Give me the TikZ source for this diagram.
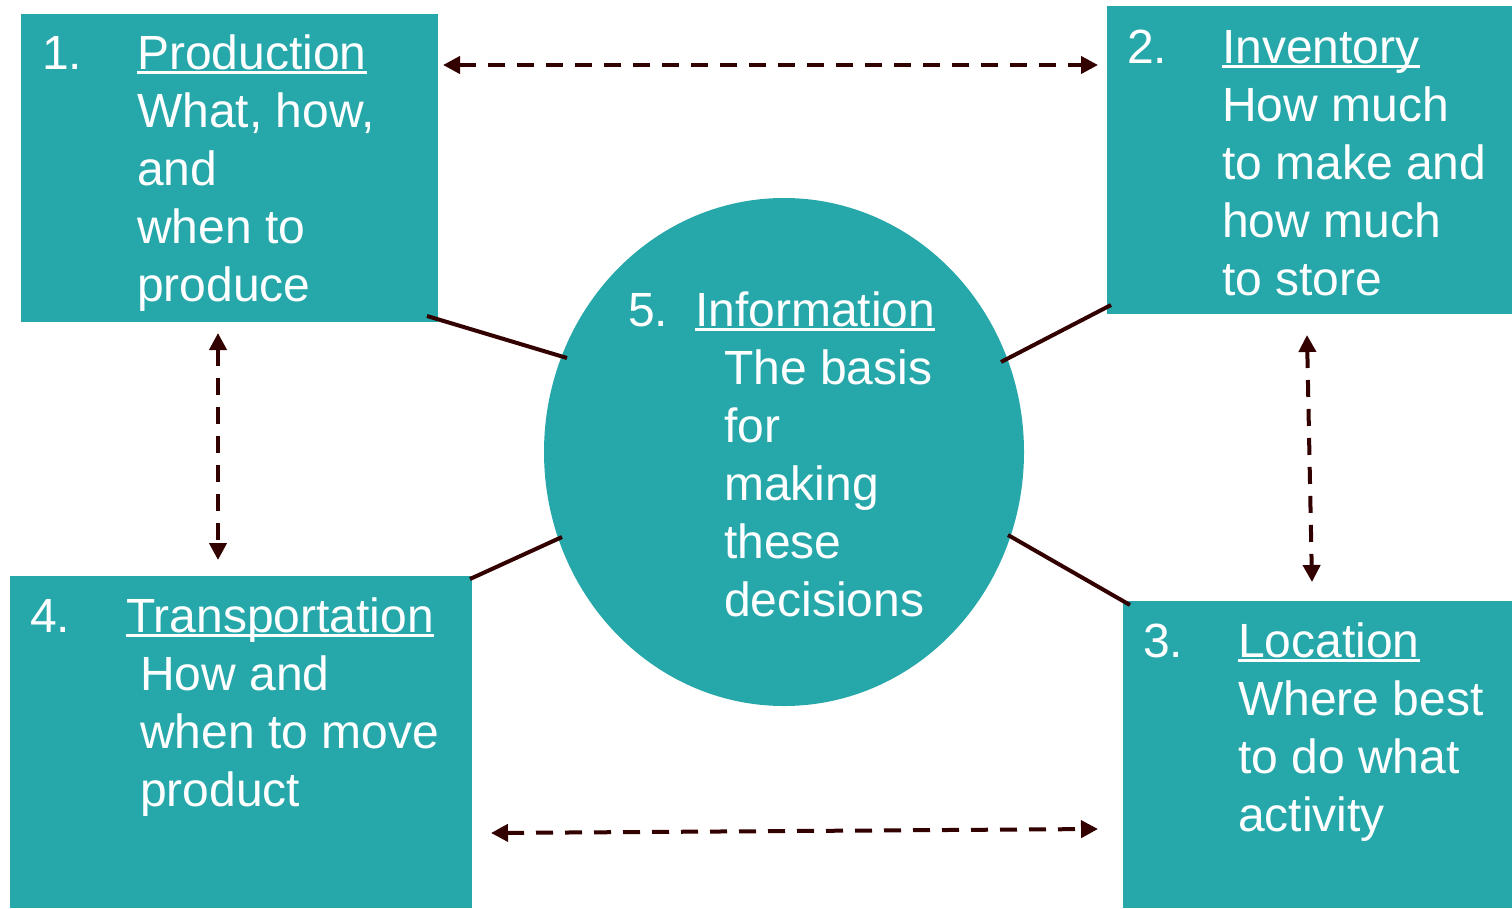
\documentclass[tikz,border=0pt]{standalone}
\usepackage{fontspec}
\setmainfont{Liberation Sans}
\usetikzlibrary{arrows.meta,shapes.geometric}
\definecolor{teal1}{RGB}{38,168,171}
\definecolor{darkline}{RGB}{51,0,0}
\newcommand\myul[1]{\setbox0=\hbox{#1}\rlap{\rule[-5pt]{\wd0}{2.8pt}}\box0}
\tikzset{
  box/.style={fill=teal1, draw=none},
  txt/.style={anchor=base west, inner sep=0pt, text=white, font=\fontsize{48}{58}\selectfont},
  link/.style={draw=darkline, line width=4pt},
  dlink/.style={draw=darkline, line width=4pt, dash pattern=on 17pt off 12pt,
    {Triangle[length=17pt,width=17pt]}-{Triangle[length=17pt,width=17pt]}}
}
\begin{document}
\begin{tikzpicture}[x=1pt,y=-1pt]
\useasboundingbox (0,0) rectangle (1512,908);
% boxes
\fill[box] (21,14) rectangle (438,322);
\fill[box] (1107,6) rectangle (1512,314);
\fill[box] (1123,601) rectangle (1512,908);
\fill[box] (10,576) rectangle (472,908);
\node[box, ellipse, minimum width=480pt, minimum height=508pt, inner sep=0pt] (c) at (784,452) {};
% box 1
\node[txt] (n1) at (42,69) {1.};
\node[txt] (t1) at (137,69) {\myul{Production}};
\foreach \t [count=\i] in {{What, how,}, and, when to, produce}
  \node[txt] (a\i) at (137,69+58*\i) {\t};
% box 2
\node[txt] (n2) at (1127,63) {2.};
\node[txt] (t2) at (1222,63) {\myul{Inventory}};
\foreach \t [count=\i] in {How much, to make and, how much, to store}
  \node[txt] (b\i) at (1222,63+58*\i) {\t};
% box 3
\node[txt] (n3) at (1143,657) {3.};
\node[txt] (t3) at (1238,657) {\myul{Location}};
\foreach \t [count=\i] in {Where best, to do what, activity}
  \node[txt] (d\i) at (1238,657+58*\i) {\t};
% box 4
\node[txt] (n4) at (30,632) {4.};
\node[txt] (t4) at (126,632) {\myul{Transportation}};
\foreach \t [count=\i] in {How and, when to move, product}
  \node[txt] (e\i) at (140,632+58*\i) {\t};
% circle
\node[txt] (n5) at (628,326) {5.};
\node[txt] (t5) at (695,326) {\myul{Information}};
\foreach \t [count=\i] in {The basis, for, making, these, decisions}
  \node[txt] (f\i) at (724,326+58*\i) {\t};
% solid connectors
\coordinate (p1a) at (427,316); \coordinate (p1b) at (567,358);
\coordinate (p2a) at (1001,362); \coordinate (p2b) at (1111,305);
\coordinate (p3a) at (470,579); \coordinate (p3b) at (562,537);
\coordinate (p4a) at (1008,535); \coordinate (p4b) at (1130,605);
\draw[link] (p1a) -- (p1b);
\draw[link] (p2a) -- (p2b);
\draw[link] (p3a) -- (p3b);
\draw[link] (p4a) -- (p4b);
% dashed arrows
\coordinate (q1a) at (443,65); \coordinate (q1b) at (1098,65);
\coordinate (q2a) at (218,333); \coordinate (q2b) at (218,560);
\coordinate (q3a) at (1307,335); \coordinate (q3b) at (1312,582);
\coordinate (q4a) at (491,833); \coordinate (q4b) at (1098,829);
\draw[dlink] (q1a) -- (q1b);
\draw[dlink] (q2a) -- (q2b);
\draw[dlink] (q3a) -- (q3b);
\draw[dlink] (q4a) -- (q4b);
\end{tikzpicture}
\end{document}
